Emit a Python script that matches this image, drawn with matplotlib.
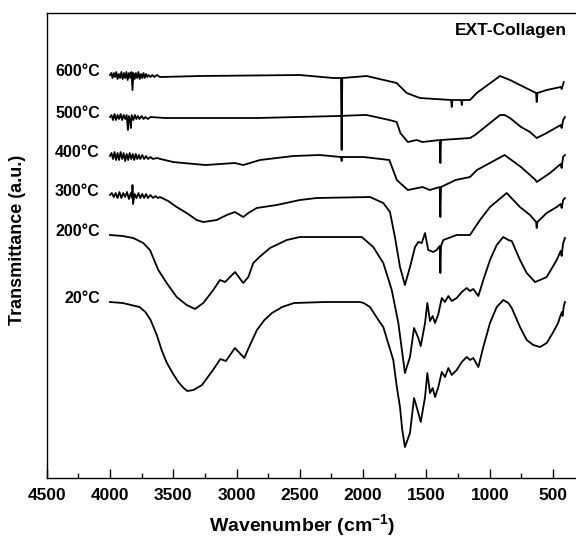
import matplotlib
matplotlib.use('Agg')
import matplotlib.pyplot as plt
from matplotlib.ticker import MultipleLocator

plt.rcParams['font.family'] = ['Liberation Sans', 'DejaVu Sans']
plt.rcParams['mathtext.fontset'] = 'custom'
plt.rcParams['mathtext.bf'] = 'Liberation Sans:bold'
plt.rcParams['mathtext.rm'] = 'Liberation Sans:bold'
plt.rcParams['mathtext.default'] = 'bf'

# FTIR spectra of EXT-Collagen: (wavenumber cm-1, transmittance a.u.)
t20 = [(4000, 1.76), (3900, 1.75), (3766, 1.71), (3720, 1.66), (3679, 1.58), (3630, 1.43),
       (3592, 1.28), (3550, 1.15), (3505, 1.05), (3460, 0.96), (3418, 0.90), (3389, 0.87),
       (3340, 0.88), (3273, 0.93), (3186, 1.08), (3128, 1.19), (3084, 1.17), (3013, 1.30),
       (2939, 1.20), (2894, 1.33), (2839, 1.48), (2780, 1.58), (2720, 1.65), (2640, 1.71),
       (2546, 1.75), (2300, 1.76), (2025, 1.76), (1996, 1.75), (1946, 1.71), (1880, 1.58),
       (1841, 1.51), (1793, 1.31), (1762, 1.18), (1734, 0.91), (1709, 0.71), (1691, 0.48),
       (1670, 0.31), (1630, 0.45), (1598, 0.80), (1564, 0.65), (1545, 0.56), (1511, 0.81),
       (1493, 1.05), (1472, 0.85), (1451, 0.90), (1432, 0.81), (1406, 0.91), (1379, 1.06),
       (1353, 1.01), (1327, 1.10), (1300, 1.03), (1261, 1.08), (1221, 1.16), (1182, 1.21),
       (1156, 1.18), (1130, 1.20), (1090, 1.11), (1051, 1.31), (998, 1.55), (945, 1.71),
       (893, 1.78), (853, 1.75), (826, 1.70), (761, 1.51), (708, 1.38), (656, 1.33),
       (603, 1.31), (550, 1.35), (498, 1.46), (460, 1.55), (445, 1.61), (430, 1.66),
       (425, 1.62), (415, 1.72), (406, 1.76)]

t200 = [(4000, 2.43), (3900, 2.42), (3816, 2.40), (3737, 2.35), (3684, 2.28), (3618, 2.08),
        (3552, 1.95), (3473, 1.81), (3394, 1.73), (3328, 1.69), (3263, 1.75), (3184, 1.88),
        (3131, 1.98), (3091, 1.96), (3012, 2.06), (2947, 1.95), (2907, 2.01), (2868, 2.15),
        (2828, 2.20), (2736, 2.30), (2604, 2.38), (2500, 2.41), (2367, 2.41), (2011, 2.41),
        (1920, 2.31), (1841, 2.15), (1774, 1.88), (1722, 1.55), (1670, 1.05), (1630, 1.21),
        (1598, 1.50), (1564, 1.40), (1545, 1.32), (1511, 1.55), (1493, 1.75), (1472, 1.57),
        (1451, 1.62), (1432, 1.55), (1406, 1.64), (1379, 1.80), (1354, 1.76), (1327, 1.82),
        (1300, 1.77), (1261, 1.80), (1221, 1.86), (1182, 1.90), (1156, 1.87), (1130, 1.89),
        (1090, 1.82), (1051, 1.98), (998, 2.18), (945, 2.33), (893, 2.41), (853, 2.38),
        (826, 2.37), (761, 2.18), (708, 2.05), (642, 1.96), (603, 1.98), (550, 2.01),
        (471, 2.18), (440, 2.27), (432, 2.22), (420, 2.35), (406, 2.40)]

t300 = [(4000, 2.83), (3985, 2.85), (3970, 2.81), (3955, 2.85), (3940, 2.80), (3925, 2.86),
        (3910, 2.80), (3895, 2.85), (3880, 2.81), (3865, 2.86), (3850, 2.79), (3835, 2.85),
        (3825, 2.80), (3822, 2.93), (3818, 2.74), (3805, 2.84), (3790, 2.80), (3775, 2.85),
        (3760, 2.80), (3745, 2.84), (3730, 2.80), (3715, 2.84), (3700, 2.80), (3680, 2.83),
        (3660, 2.80), (3640, 2.82), (3620, 2.80), (3605, 2.81), (3540, 2.77), (3473, 2.71),
        (3394, 2.65), (3315, 2.58), (3263, 2.56), (3157, 2.58), (3078, 2.63), (3013, 2.66),
        (2947, 2.61), (2907, 2.65), (2841, 2.70), (2683, 2.73), (2500, 2.78), (2367, 2.80),
        (1946, 2.81), (1841, 2.75), (1788, 2.66), (1749, 2.41), (1709, 2.11), (1670, 1.93),
        (1630, 2.11), (1590, 2.31), (1564, 2.36), (1537, 2.35), (1511, 2.45), (1486, 2.28),
        (1446, 2.26), (1419, 2.28), (1395, 2.32), (1390, 2.05), (1385, 2.32), (1367, 2.38),
        (1261, 2.43), (1156, 2.43), (1130, 2.48), (1077, 2.58), (998, 2.71), (866, 2.85),
        (814, 2.78), (761, 2.71), (682, 2.63), (634, 2.56), (629, 2.50), (624, 2.56),
        (550, 2.65), (471, 2.71), (440, 2.74), (432, 2.70), (420, 2.78), (406, 2.80)]

t400 = [(4000, 3.22), (3988, 3.25), (3976, 3.19), (3964, 3.26), (3952, 3.18), (3940, 3.25),
        (3928, 3.18), (3916, 3.26), (3904, 3.19), (3892, 3.25), (3880, 3.17), (3868, 3.24),
        (3856, 3.18), (3844, 3.25), (3832, 3.19), (3820, 3.24), (3808, 3.18), (3796, 3.24),
        (3784, 3.19), (3772, 3.23), (3760, 3.19), (3745, 3.23), (3730, 3.19), (3715, 3.22),
        (3700, 3.19), (3680, 3.21), (3660, 3.19), (3630, 3.20), (3600, 3.19), (3500, 3.16),
        (3421, 3.15), (3244, 3.13), (3013, 3.15), (2947, 3.13), (2815, 3.18), (2552, 3.22),
        (2344, 3.23), (2175, 3.21), (2170, 3.17), (2165, 3.21), (1996, 3.21), (1793, 3.18),
        (1734, 2.98), (1647, 2.88), (1531, 2.91), (1474, 2.88), (1395, 2.91), (1390, 2.61),
        (1385, 2.91), (1270, 2.98), (1156, 3.01), (1101, 3.08), (883, 3.23), (753, 3.11),
        (638, 2.98), (629, 2.96), (524, 3.05), (440, 3.14), (432, 3.10), (421, 3.21),
        (406, 3.23)]

t500 = [(4000, 3.61), (3988, 3.63), (3976, 3.58), (3964, 3.64), (3952, 3.58), (3940, 3.63),
        (3928, 3.59), (3916, 3.64), (3904, 3.58), (3892, 3.63), (3880, 3.59), (3868, 3.63),
        (3858, 3.48), (3850, 3.62), (3840, 3.58), (3835, 3.50), (3828, 3.63), (3815, 3.58),
        (3803, 3.63), (3791, 3.59), (3779, 3.62), (3767, 3.59), (3750, 3.62), (3735, 3.59),
        (3720, 3.61), (3700, 3.59), (3680, 3.61), (3563, 3.60), (2839, 3.60), (2199, 3.62),
        (1996, 3.63), (1972, 3.63), (1793, 3.58), (1735, 3.56), (1706, 3.45), (1647, 3.36),
        (1577, 3.38), (1531, 3.36), (1395, 3.38), (1390, 3.15), (1385, 3.38), (1156, 3.40),
        (1116, 3.43), (919, 3.63), (883, 3.63), (840, 3.60), (753, 3.51), (682, 3.46),
        (629, 3.40), (550, 3.45), (440, 3.53), (432, 3.50), (420, 3.58), (406, 3.61)]

t600 = [(4000, 4.03), (3990, 4.05), (3980, 4.00), (3970, 4.05), (3960, 4.01), (3950, 4.06),
        (3940, 3.99), (3930, 4.04), (3920, 4.00), (3910, 4.06), (3900, 3.99), (3890, 4.05),
        (3880, 4.00), (3870, 4.06), (3860, 3.98), (3850, 4.05), (3840, 4.00), (3830, 4.06),
        (3822, 3.88), (3815, 4.05), (3805, 3.99), (3795, 4.05), (3785, 4.00), (3775, 4.06),
        (3765, 3.99), (3755, 4.04), (3745, 4.00), (3735, 4.05), (3725, 4.00), (3715, 4.04),
        (3705, 4.01), (3695, 4.03), (3680, 4.01), (3665, 4.03), (3650, 4.01), (3630, 4.03),
        (3605, 4.01), (3289, 4.02), (2500, 4.03), (2236, 4.00), (2175, 4.00), (2170, 3.28),
        (2165, 4.00), (1972, 4.02), (1735, 3.95), (1656, 3.85), (1551, 3.80), (1305, 3.78),
        (1300, 3.71), (1295, 3.78), (1226, 3.78), (1221, 3.73), (1216, 3.78), (1156, 3.78),
        (1103, 3.85), (919, 4.02), (840, 3.98), (682, 3.88), (634, 3.85), (629, 3.76),
        (624, 3.85), (550, 3.88), (440, 3.91), (432, 3.89), (415, 3.96)]

temps = ['20°C', '200°C', '300°C', '400°C', '500°C', '600°C']
spectra = [t20, t200, t300, t400, t500, t600]

fig = plt.figure(figsize=(5.76, 5.4), dpi=100)
ax = fig.add_axes([0.081, 0.1148, 0.9231, 0.8611])

for name, spec in zip(temps, spectra):
    wn = [p[0] for p in spec]
    tr = [p[1] for p in spec]
    ax.plot(wn, tr, color='black', lw=1.3)
    ax.text(4080, tr[0] + 0.04, name, ha='right', va='center',
            fontsize=11.5, fontweight='bold')

ax.set_xlim(4500, 300)
ax.set_ylim(0, 4.65)
ax.xaxis.set_major_locator(MultipleLocator(500))
ax.xaxis.set_minor_locator(MultipleLocator(250))
ax.tick_params(axis='x', which='major', direction='in', length=6.5, width=1, pad=7,
               labelsize=12.5)
ax.tick_params(axis='x', which='minor', direction='in', length=3.5, width=1)
ax.set_yticks([])
for lab in ax.get_xticklabels():
    lab.set_fontweight('bold')
ax.spines['right'].set_visible(False)
for s in ['left', 'top', 'bottom']:
    ax.spines[s].set_linewidth(1.0)

ax.text(0.979, 0.963, 'EXT-Collagen', transform=ax.transAxes, ha='right', va='center',
        fontsize=12.5, fontweight='bold')

fig.text(0.524, 0.004, 'Wavenumber (cm$^{-1}$)', ha='center', va='bottom',
         fontsize=14, fontweight='bold')
fig.text(0.03, 0.555, 'Transmittance (a.u.)', rotation=90, ha='center', va='center',
         fontsize=13, fontweight='bold')

fig.savefig('out.png', dpi=100)
